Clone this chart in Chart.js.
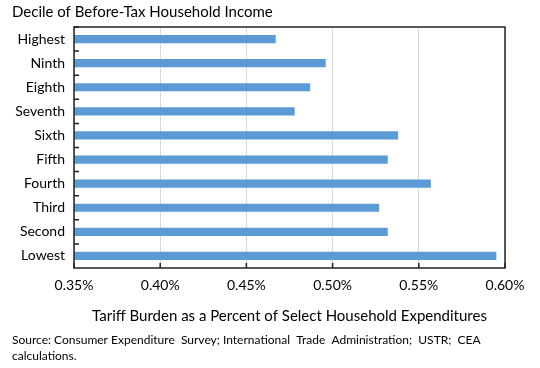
<!DOCTYPE html>
<html>
<head>
<meta charset="utf-8">
<script src="https://cdn.jsdelivr.net/npm/chart.js@4.4.0/dist/chart.umd.min.js"></script>
<style>
    html, body { margin: 0; padding: 0; background: #fff; }
    #wrap { width: 540px; height: 368px; }
</style>
</head>
<body>
<div id="wrap"><canvas id="myChart"></canvas></div>
<script>
const deciles = ['Highest', 'Ninth', 'Eighth', 'Seventh', 'Sixth', 'Fifth', 'Fourth', 'Third', 'Second', 'Lowest'];
const tariffBurden = [0.467, 0.496, 0.487, 0.478, 0.538, 0.532, 0.557, 0.527, 0.532, 0.595];
const xTickValues = [0.35, 0.40, 0.45, 0.50, 0.55, 0.60];

const FONT = 'Lato, "Open Sans", sans-serif';
const BAR_COLOR = '#5b9bd5';


// frame + inward tick marks, like the original
const frameTicks = {
    id: 'frameTicks',
    afterDraw(chart) {
        const ctx = chart.ctx;
        const a = chart.chartArea;
        const x = chart.scales.x;
        const y = chart.scales.y;
        ctx.save();
        ctx.strokeStyle = '#222';
        ctx.lineWidth = 1.5;
        ctx.strokeRect(a.left, a.top, a.right - a.left, a.bottom - a.top);
        ctx.beginPath();
        let band = (a.bottom - a.top) / deciles.length;
        for (let i = 0; i < deciles.length; i++) {
            let py = y.getPixelForValue(i) - band / 2;
            ctx.moveTo(a.left, py);
            ctx.lineTo(a.left + 5, py);
        }
        for (let v of xTickValues) {
            let px = x.getPixelForValue(v);
            ctx.moveTo(px, a.bottom);
            ctx.lineTo(px, a.bottom - 5);
        }
        ctx.stroke();
        ctx.restore();
    }
};


function drawChart() {
    const ctx = document.getElementById('myChart').getContext('2d');
    new Chart(ctx, {
        type: 'bar',
        data: {
            labels: deciles,
            datasets: [{
                data: tariffBurden,
                backgroundColor: BAR_COLOR,
                borderWidth: 0,
                barPercentage: 0.68,
                categoryPercentage: 0.5
            }]
        },
        options: {
            indexAxis: 'y',
            responsive: true,
            maintainAspectRatio: false,
            animation: false,
            layout: { padding: { left: 12, right: 35, top: 0, bottom: 2 } },
            plugins: {
                legend: { display: false },
                tooltip: { enabled: false },
                title: {
                    display: true,
                    text: 'Decile of Before-Tax Household Income',
                    align: 'start',
                    color: '#000',
                    font: { family: FONT, size: 15, weight: 'normal' },
                    padding: { top: 3, bottom: 6 }
                },
                subtitle: {
                    display: true,
                    position: 'bottom',
                    align: 'start',
                    text: ['Source: Consumer Expenditure  Survey; International  Trade  Administration;  USTR;  CEA',
                           'calculations.'],
                    color: '#000',
                    font: { family: FONT, size: 12, lineHeight: 1.3 },
                    padding: { top: 8, bottom: 2 }
                }
            },
            scales: {
                x: {
                    min: 0.35,
                    max: 0.60,
                    afterBuildTicks: (axis) => {
                        axis.ticks = xTickValues.map(v => ({ value: v }));
                    },
                    ticks: {
                        color: '#000',
                        font: { family: FONT, size: 14 },
                        padding: 9,
                        callback: (v) => v.toFixed(2) + '%'
                    },
                    grid: { color: '#d9d9d9', lineWidth: 1, drawTicks: false },
                    border: { display: false },
                    title: {
                        display: true,
                        text: 'Tariff Burden as a Percent of Select Household Expenditures',
                        color: '#000',
                        font: { family: FONT, size: 15 },
                        padding: { top: 4, bottom: 0 }
                    }
                },
                y: {
                    afterFit: (axis) => { axis.width = 62; },
                    ticks: {
                        color: '#000',
                        font: { family: FONT, size: 14 },
                        padding: 9
                    },
                    grid: { display: false, drawTicks: false },
                    border: { display: false }
                }
            }
        },
        plugins: [frameTicks]
    });
}

drawChart();
</script>
</body>
</html>
